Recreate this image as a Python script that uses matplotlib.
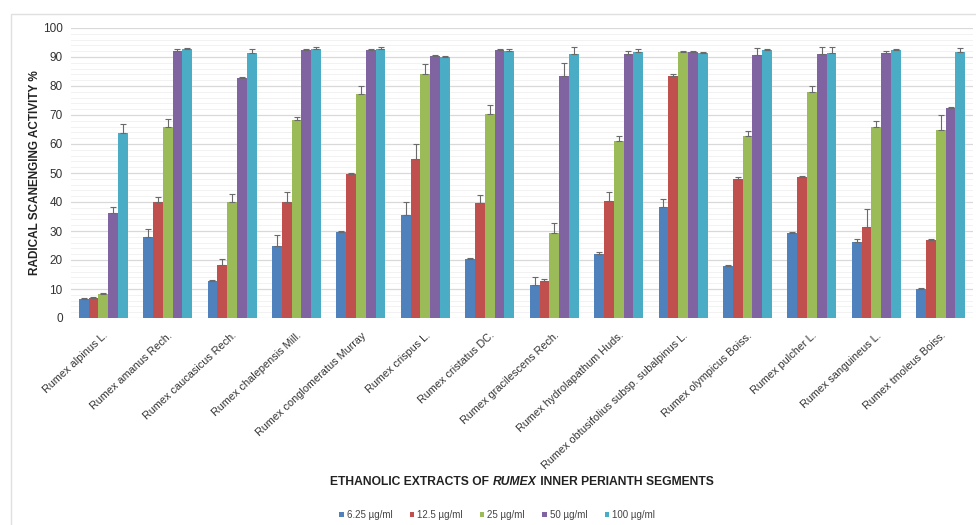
import numpy as np
import matplotlib
matplotlib.use("Agg")
import matplotlib.pyplot as plt
from matplotlib.patches import Rectangle
from matplotlib.ticker import MultipleLocator
from matplotlib.transforms import offset_copy

plt.rcParams['font.family'] = ['Liberation Sans', 'DejaVu Sans']

species = ["Rumex alpinus L.", "Rumex amanus Rech.", "Rumex caucasicus Rech.",
           "Rumex chalepensis Mill.", "Rumex conglomeratus Murray", "Rumex crispus L.",
           "Rumex cristatus DC.", "Rumex gracilescens Rech.", "Rumex hydrolapathum Huds.",
           "Rumex obtusifolius subsp. subalpinus L.", "Rumex olympicus Boiss.",
           "Rumex pulcher L.", "Rumex sanguineus L.", "Rumex tmoleus Boiss."]

doses = ["6.25 µg/ml", "12.5 µg/ml", "25 µg/ml", "50 µg/ml", "100 µg/ml"]

# mean scavenging activity (%) per dose
act_6_25 = [6.5, 28.0, 12.8, 24.8, 29.8, 35.5, 20.2, 11.4, 22.1, 38.4, 17.9, 29.2, 26.1, 9.9]
act_12_5 = [6.9, 40.1, 18.2, 39.9, 49.5, 54.7, 39.5, 12.9, 40.5, 83.4, 47.9, 48.7, 31.5, 26.9]
act_25 = [8.2, 66.0, 40.1, 68.3, 77.1, 84.1, 70.3, 29.2, 61.1, 91.6, 62.8, 77.8, 65.8, 64.8]
act_50 = [36.3, 92.2, 82.6, 92.4, 92.4, 90.2, 92.4, 83.4, 91.0, 91.6, 90.7, 91.0, 91.5, 72.3]
act_100 = [63.7, 92.6, 91.3, 92.9, 92.9, 90.0, 92.2, 91.0, 91.6, 91.3, 92.4, 91.5, 92.4, 91.6]

# standard deviations
sd_6_25 = [0.3, 2.8, 0.4, 3.7, 0.3, 4.4, 0.6, 2.6, 0.5, 2.5, 0.4, 0.3, 1.0, 0.5]
sd_12_5 = [0.3, 1.7, 2.0, 3.7, 0.5, 5.2, 2.9, 0.7, 2.8, 0.7, 0.8, 0.4, 6.1, 0.4]
sd_25 = [0.5, 2.6, 2.7, 1.0, 2.9, 3.4, 3.1, 3.4, 1.7, 0.4, 1.7, 2.2, 2.3, 5.2]
sd_50 = [2.0, 0.5, 0.4, 0.4, 0.4, 0.6, 0.4, 4.6, 1.2, 0.4, 2.3, 2.3, 0.4, 0.5]
sd_100 = [3.3, 0.4, 1.3, 0.4, 0.4, 0.4, 0.4, 2.3, 1.0, 0.4, 0.5, 1.8, 0.5, 1.6]

means = [act_6_25, act_12_5, act_25, act_50, act_100]
sds = [sd_6_25, sd_12_5, sd_25, sd_50, sd_100]
colors = ["#4F81BD", "#C0504D", "#9BBB59", "#8064A2", "#4BACC6"]

fig = plt.figure(figsize=(9.76, 5.25), dpi=100)
ax = fig.add_axes([71 / 976, 207 / 525, 902 / 976, 290 / 525])

# light chart-area border
fig.patches.append(Rectangle((11 / 976, -0.1), 1.2, 1.1 - 14 / 525,
                             transform=fig.transFigure, fill=False,
                             edgecolor="#e0e0e0", lw=1.0, zorder=0))

x = np.arange(len(species))
w = 0.152
for i, (m, s, c, lab) in enumerate(zip(means, sds, colors, doses)):
    pos = x + (i - 2) * w
    s = np.array(s)
    ax.bar(pos, m, width=w, color=c, label=lab, zorder=3)
    ax.errorbar(pos, m, yerr=[np.zeros_like(s), s], fmt="none",
                ecolor="#6a6a6a", elinewidth=0.8, capsize=2, capthick=0.8, zorder=4)

ax.set_xlim(-0.5, len(species) - 0.5)
ax.set_ylim(0, 100)
ax.yaxis.set_major_locator(MultipleLocator(10))
ax.yaxis.set_minor_locator(MultipleLocator(2))
ax.grid(axis="y", which="major", color="#d9d9d9", lw=0.9, zorder=0)
ax.grid(axis="y", which="minor", color="#f2f2f2", lw=0.7, zorder=0)
ax.set_axisbelow(True)
for sp in ax.spines.values():
    sp.set_visible(False)
ax.tick_params(axis="both", which="both", length=0)
ax.tick_params(axis="y", labelsize=8.5, labelcolor="#333333", pad=6)

ax.set_xticks(x)
ax.set_xticklabels(species, rotation=43, ha="right", rotation_mode="anchor",
                   fontsize=7.8, color="#333333")
ax.tick_params(axis="x", pad=9)

ax.set_ylabel("RADICAL SCANENGING ACTIVITY %", fontsize=8.5, fontweight="bold",
              color="#222222", labelpad=1)

# axis title with the genus name in bold italic
parts = [("ETHANOLIC EXTRACTS OF ", "normal"), ("RUMEX", "italic"),
         (" INNER PERIANTH SEGMENTS", "normal")]
fig.canvas.draw()
renderer = fig.canvas.get_renderer()
pieces = []
for txt, style in parts:
    t = fig.text(0, 0, txt, fontsize=8.7, fontweight="bold", style=style,
                 color="#222222", va="center", ha="left")
    pieces.append(t)
widths = [p.get_window_extent(renderer).width for p in pieces]
x0 = 522 - sum(widths) / 2
y0 = 525 - 482
for p, wd in zip(pieces, widths):
    p.set_transform(None)
    p.set_position((x0, y0))
    x0 += wd

fig.legend(loc="center", bbox_to_anchor=(497 / 976, 1 - 515 / 525), ncol=5,
           frameon=False, fontsize=7, handlelength=0.45, handleheight=0.45,
           handletextpad=0.3, columnspacing=1.8, labelcolor="#444444")

fig.savefig("out.png", dpi=100, facecolor="white")
